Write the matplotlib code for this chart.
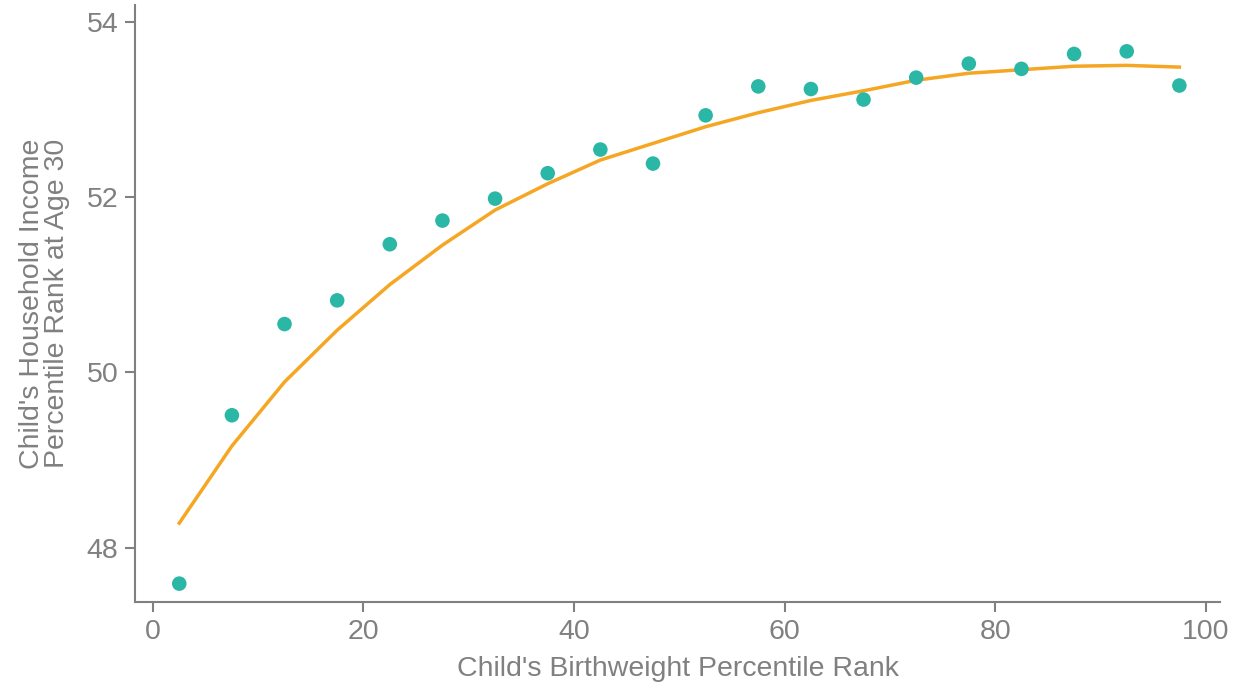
import matplotlib.pyplot as plt
import numpy as np

plt.rcParams['font.family'] = ['Liberation Sans', 'DejaVu Sans']

# birthweight percentile bins (midpoints)
bw_rank = [2.5, 7.5, 12.5, 17.5, 22.5, 27.5, 32.5, 37.5, 42.5, 47.5,
           52.5, 57.5, 62.5, 67.5, 72.5, 77.5, 82.5, 87.5, 92.5, 97.5]
# binned mean of child income rank
inc_rank = [47.59, 49.51, 50.55, 50.82, 51.46, 51.73, 51.98, 52.27, 52.54, 52.38,
            52.93, 53.26, 53.23, 53.11, 53.36, 53.52, 53.46, 53.63, 53.66, 53.27]
# fitted curve
fit_rank = [48.28, 49.16, 49.89, 50.48, 51.00, 51.45, 51.85, 52.15, 52.42, 52.61,
            52.80, 52.96, 53.10, 53.21, 53.33, 53.41, 53.45, 53.49, 53.50, 53.48]

gray = '#808080'
fig = plt.figure(figsize=(12.39, 6.92), dpi=100)
ax = fig.add_axes([0.109, 0.130, 0.876, 0.863])

ax.plot(bw_rank, fit_rank, color='#f5a623', lw=2.5, zorder=2)
ax.scatter(bw_rank, inc_rank, s=110, color='#2bb7a5', edgecolors='none', zorder=3)

ax.set_xlim(-1.7, 101.4)
ax.set_ylim(47.38, 54.19)
ax.set_xticks([0, 20, 40, 60, 80, 100])
ax.set_yticks([48, 50, 52, 54])

for s in ['top', 'right']:
    ax.spines[s].set_visible(False)
for s in ['left', 'bottom']:
    ax.spines[s].set_color(gray)
    ax.spines[s].set_linewidth(1.5)
ax.tick_params(colors=gray, labelsize=20.5, length=7, width=1.5, pad=5)

ax.set_xlabel("Child's Birthweight Percentile Rank", color=gray, fontsize=20.5, labelpad=8)
ax.set_ylabel("Child's Household Income\nPercentile Rank at Age 30", color=gray,
              fontsize=20.5, labelpad=12, linespacing=0.95)

fig.savefig('out.png', dpi=100)
